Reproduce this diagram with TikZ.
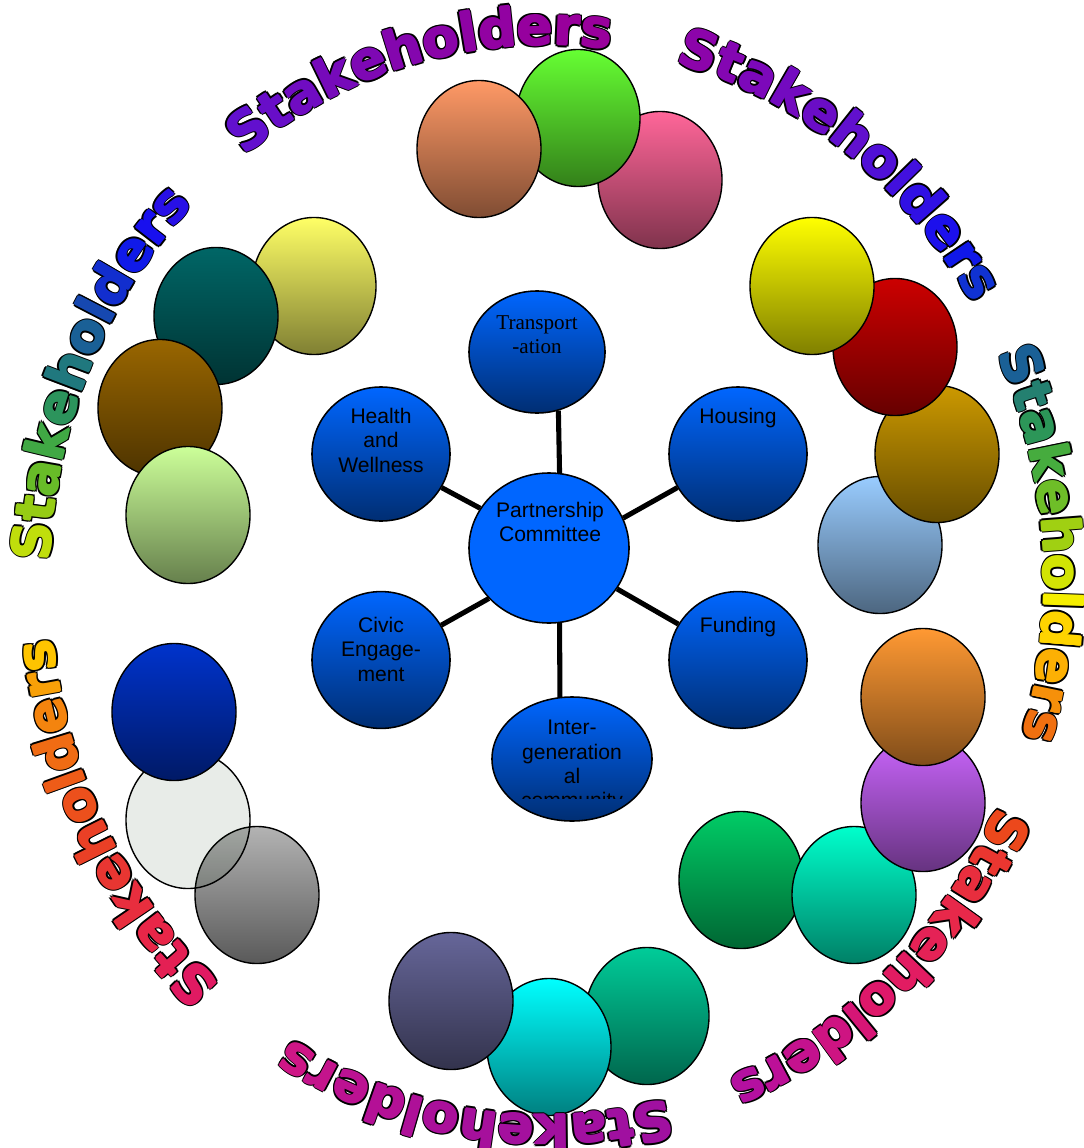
\documentclass[tikz,border=0pt]{standalone}
\usepackage{fontspec}
\setmainfont{Liberation Sans}
\newfontfamily\serifface{Liberation Serif}
\newfontfamily\stkfam{DejaVu Sans}
\usetikzlibrary{shapes.geometric,decorations.text}

\definecolor{topicblue}{RGB}{0,102,255}
\definecolor{salmonb}{RGB}{255,153,102}
\definecolor{limeb}{RGB}{102,255,51}
\definecolor{pinkb}{RGB}{255,102,153}
\definecolor{paleyellowb}{RGB}{255,255,102}
\definecolor{tealb}{RGB}{0,102,102}
\definecolor{brownb}{RGB}{153,102,0}
\definecolor{mintb}{RGB}{204,255,153}
\definecolor{yellowb}{RGB}{255,255,0}
\definecolor{redb}{RGB}{204,0,0}
\definecolor{goldb}{RGB}{204,153,0}
\definecolor{skyb}{RGB}{153,204,255}
\definecolor{navyb}{RGB}{0,51,204}
\definecolor{greyb}{RGB}{179,179,179}
\definecolor{veilb}{RGB}{0,40,0}
\definecolor{orangeb}{RGB}{255,153,51}
\definecolor{violetb}{RGB}{204,102,255}
\definecolor{jadeb}{RGB}{0,204,102}
\definecolor{aquab}{RGB}{0,255,204}
\definecolor{slateb}{RGB}{102,102,153}
\definecolor{cyanb}{RGB}{0,255,255}
\definecolor{seab}{RGB}{0,204,153}

\newcommand\stkfont{\stkfam\bfseries\fontsize{37.5}{40}\selectfont}
% each letter format carries the font as well as its own colour
\newcommand\lc[1]{\stkfont\color[RGB]{#1}}

% one "Stakeholders" word on the ring: a black halo, then the coloured
% letters, drawn a few times with tiny shifts so the strokes look heavier
\newcommand\stkword[3]{%
  \foreach \ox/\oy in {1.7/0,-1.7/0,0/1.7,0/-1.7,1.2/1.2,1.2/-1.2,-1.2/1.2,-1.2/-1.2}{%
    \path[decorate,decoration={text along path,text={|\stkfont\color{black}|Stakeholders}}]
      ([shift={(\ox pt,\oy pt)}]ring) ++(#1:12.425cm and 13.375cm)
      arc[start angle=#1,end angle=#2,x radius=12.425cm,y radius=13.375cm];}%
  \foreach \ox/\oy in {0.7/0,-0.7/0,0/0.7,0/-0.7,0/0}{%
    \path[decorate,decoration={text along path,text={#3}}]
      ([shift={(\ox pt,\oy pt)}]ring) ++(#1:12.425cm and 13.375cm)
      arc[start angle=#1,end angle=#2,x radius=12.425cm,y radius=13.375cm];}}

\begin{document}
\begin{tikzpicture}[x=0.025cm,y=-0.025cm,
  blob/.style={ellipse,draw=black,line width=1pt,inner sep=0pt,
    minimum width=3.1cm,minimum height=3.425cm},
  tint/.style={top color=#1,bottom color=#1!50!black},
  topic/.style={ellipse,draw=black,line width=1.1pt,inner sep=0pt,
    top color=topicblue,bottom color=topicblue!45!black},
  topictext/.style={align=center,inner sep=0pt,anchor=north,text=black,
    font=\fontsize{15}{17.35}\selectfont},
  link/.style={draw=black,line width=3.6pt}]
\useasboundingbox (0,0) rectangle (1083,1148);
\coordinate (ring) at (547,580);

% stakeholder groups
\node[blob,tint=pinkb]   (s1c) at (660,180) {};
\node[blob,tint=limeb]   (s1b) at (578,118) {};
\node[blob,tint=salmonb] (s1a) at (479,149) {};

\node[blob,tint=paleyellowb] (s2a) at (314,286) {};
\node[blob,tint=tealb]       (s2b) at (216,316) {};
\node[blob,tint=brownb]      (s2c) at (160,408) {};
\node[blob,tint=mintb]       (s2d) at (188,515) {};

\node[blob,tint=skyb]    (s3d) at (880,545) {};
\node[blob,tint=goldb]   (s3c) at (937,454) {};
\node[blob,tint=redb]    (s3b) at (895,347) {};
\node[blob,tint=yellowb] (s3a) at (812,286) {};

\node[blob,tint=greyb] (s4c) at (257,895) {};
\node[blob,fill=veilb,fill opacity=0.09,draw opacity=1] (s4b) at (188,820) {};
\node[blob,tint=navyb] (s4a) at (174,712) {};

\node[blob,tint=jadeb]   (s5d) at (741,880) {};
\node[blob,tint=aquab]   (s5c) at (854,895) {};
\node[blob,tint=violetb] (s5b) at (923,803) {};
\node[blob,tint=orangeb] (s5a) at (923,697) {};

\node[blob,tint=seab]   (s6c) at (647,1016) {};
\node[blob,tint=cyanb]  (s6b) at (549,1047) {};
\node[blob,tint=slateb] (s6a) at (451,1001) {};

% partnership hub and its topics
\node[ellipse,draw=black,line width=1.1pt,inner sep=0pt,fill=topicblue,
  minimum width=4cm,minimum height=3.75cm] (pc) at (549,548) {};
\node[topic,minimum width=3.4cm,minimum height=3.05cm] (trans) at (537,352) {};
\node[topic,minimum width=3.45cm,minimum height=3.35cm] (health) at (381,454) {};
\node[topic,minimum width=3.45cm,minimum height=3.35cm] (housing) at (738,454) {};
\node[topic,minimum width=3.45cm,minimum height=3.42cm] (civic) at (381,660) {};
\node[topic,minimum width=3.45cm,minimum height=3.42cm] (funding) at (738,660) {};
\node[topic,minimum width=4cm,minimum height=3.1cm] (inter) at (572,759) {};

\draw[link] (pc.82) -- (trans.-70);
\draw[link] (pc.150) -- (health.-29);
\draw[link] (pc.22) -- (housing.209);
\draw[link] (pc.220) -- (civic.30);
\draw[link] (pc.-31) -- (funding.149);
\draw[link] (pc.-82) -- (inter.101);

\node[topictext] (pcT) at (550,502) {Partnership\\Committee};
\node[topictext,font=\serifface\fontsize{15}{17.35}\selectfont] (transT) at (537,315) {Transport\\-ation};
\node[topictext] (healthT) at (381,408) {Health\\and\\Wellness};
\node[topictext] (housingT) at (738,408) {Housing};
\node[topictext] (civicT) at (381,617) {Civic\\Engage-\\ment};
\node[topictext] (fundingT) at (738,617) {Funding};
\begin{scope}
  \clip (480,700) rectangle (665,798);
  \node[topictext] (interT) at (572,720) {Inter-\\generation\\al\\community};
\end{scope}

% the ring of words
\stkword{127.5}{75}{|\lc{98,16,206}|S|\lc{104,14,200}|t|\lc{112,12,194}|a|\lc{118,10,186}|k|\lc{126,8,180}|e|\lc{132,6,174}|h|\lc{138,4,168}|o|\lc{142,3,164}|l|\lc{146,2,162}|d|\lc{150,0,158}|e|\lc{152,0,156}|r|\lc{153,0,156}|s}
\stkword{75}{24}{|\lc{140,4,170}|S|\lc{132,6,178}|t|\lc{124,8,186}|a|\lc{115,10,192}|k|\lc{106,13,198}|e|\lc{97,16,206}|h|\lc{80,16,214}|o|\lc{66,16,222}|l|\lc{48,16,228}|d|\lc{28,16,236}|e|\lc{16,24,232}|r|\lc{16,50,210}|s}
\stkword{25}{-27}{|\lc{26,96,150}|S|\lc{36,128,112}|t|\lc{44,150,88}|a|\lc{70,172,62}|k|\lc{110,190,40}|e|\lc{160,208,18}|h|\lc{210,228,4}|o|\lc{245,238,0}|l|\lc{254,212,0}|d|\lc{252,176,4}|e|\lc{246,144,10}|r|\lc{240,112,16}|s}
\stkword{-25}{-74}{|\lc{236,72,28}|S|\lc{234,54,48}|t|\lc{232,46,62}|a|\lc{232,40,74}|k|\lc{229,34,86}|e|\lc{226,28,98}|h|\lc{222,24,106}|o|\lc{214,22,118}|l|\lc{206,20,130}|d|\lc{196,18,142}|e|\lc{188,16,152}|r|\lc{180,16,160}|s}
\stkword{-76}{-131}{|\lc{160,16,160}|S|\lc{160,16,160}|t|\lc{162,16,160}|a|\lc{162,16,158}|k|\lc{164,16,158}|e|\lc{166,16,156}|h|\lc{170,16,154}|o|\lc{174,16,152}|l|\lc{180,16,150}|d|\lc{188,18,146}|e|\lc{196,20,140}|r|\lc{206,22,134}|s}
\stkword{-131}{-181}{|\lc{224,26,98}|S|\lc{228,32,84}|t|\lc{232,38,72}|a|\lc{232,46,62}|k|\lc{232,54,50}|e|\lc{234,64,38}|h|\lc{236,80,28}|o|\lc{238,92,24}|l|\lc{240,108,20}|d|\lc{244,132,14}|e|\lc{248,160,8}|r|\lc{254,196,0}|s}
\stkword{178}{128}{|\lc{192,222,12}|S|\lc{150,204,20}|t|\lc{104,188,40}|a|\lc{64,168,68}|k|\lc{44,148,92}|e|\lc{32,120,126}|h|\lc{26,96,150}|o|\lc{22,72,176}|l|\lc{18,46,206}|d|\lc{16,26,232}|e|\lc{24,16,238}|r|\lc{40,16,230}|s}
\end{tikzpicture}
\end{document}
